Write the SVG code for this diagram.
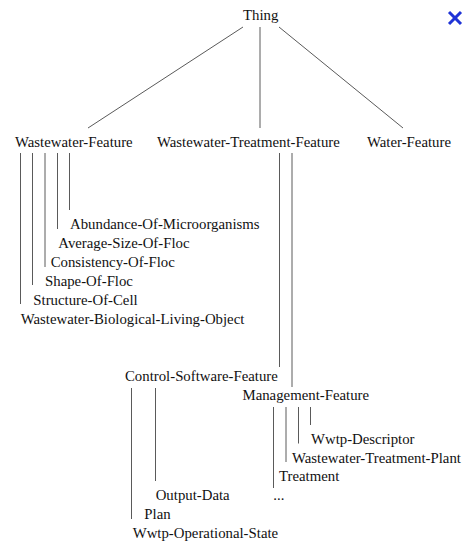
<svg xmlns="http://www.w3.org/2000/svg" width="465" height="545" viewBox="0 0 465 545">
<style>
text{font-family:"Liberation Serif","Times New Roman",serif;font-size:14.8px;fill:#111}
.c line{stroke:#5a5a5a;stroke-width:1;fill:none}
.x line{stroke:#1f33d6;stroke-width:3;stroke-linecap:butt}
</style>
<rect width="465" height="545" fill="#fff"/>
<g id="connectors" class="c">
<line x1="243" y1="27" x2="88" y2="128"/>
<line x1="260" y1="27" x2="260" y2="128"/>
<line x1="279" y1="27" x2="403" y2="128"/>
<line x1="20.5" y1="153" x2="20.5" y2="304"/>
<line x1="32.5" y1="153" x2="32.5" y2="285"/>
<line x1="45" y1="153" x2="45" y2="267"/>
<line x1="57.5" y1="153" x2="57.5" y2="229"/>
<line x1="69.5" y1="153" x2="69.5" y2="210"/>
<line x1="279.5" y1="153" x2="279.5" y2="367"/>
<line x1="292" y1="153" x2="292" y2="387"/>
<line x1="131.5" y1="388" x2="131.5" y2="519"/>
<line x1="155.5" y1="388" x2="155.5" y2="481"/>
<line x1="273.5" y1="407" x2="273.5" y2="488"/>
<line x1="286" y1="407" x2="286" y2="462"/>
<line x1="298.5" y1="407" x2="298.5" y2="443.5"/>
<line x1="310.5" y1="407" x2="310.5" y2="425"/>
</g>
<g id="close" class="x">
<line x1="449" y1="12" x2="461" y2="24"/>
<line x1="461" y1="12" x2="449" y2="24"/>
</g>
<g id="thing"><text x="243" y="20">Thing</text></g>
<g id="wastewater-feature"><text x="15" y="147">Wastewater-Feature</text></g>
<g id="wastewater-treatment-feature"><text x="157" y="147">Wastewater-Treatment-Feature</text></g>
<g id="water-feature"><text x="367" y="147">Water-Feature</text></g>
<g id="abundance"><text x="70" y="229">Abundance-Of-Microorganisms</text></g>
<g id="average-size"><text x="58.3" y="248">Average-Size-Of-Floc</text></g>
<g id="consistency"><text x="50.7" y="267">Consistency-Of-Floc</text></g>
<g id="shape"><text x="45" y="286">Shape-Of-Floc</text></g>
<g id="structure"><text x="33.3" y="305">Structure-Of-Cell</text></g>
<g id="biological"><text x="20.7" y="324">Wastewater-Biological-Living-Object</text></g>
<g id="control-software-feature"><text x="125" y="380.7">Control-Software-Feature</text></g>
<g id="management-feature"><text x="242.5" y="399.5">Management-Feature</text></g>
<g id="wwtp-descriptor"><text x="311" y="444">Wwtp-Descriptor</text></g>
<g id="wastewater-treatment-plant"><text x="292" y="462.5">Wastewater-Treatment-Plant</text></g>
<g id="treatment"><text x="279" y="481">Treatment</text></g>
<g id="more"><text x="273.3" y="500">...</text></g>
<g id="output-data"><text x="155.7" y="500">Output-Data</text></g>
<g id="plan"><text x="144.3" y="519">Plan</text></g>
<g id="wwtp-operational-state"><text x="132.7" y="538">Wwtp-Operational-State</text></g>
</svg>
